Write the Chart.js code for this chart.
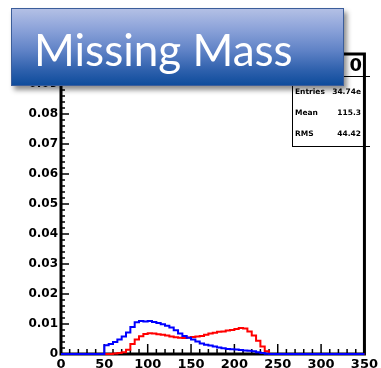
<!DOCTYPE html>
<html><head><meta charset="utf-8">
<script src="https://cdn.jsdelivr.net/npm/chart.js@4/dist/chart.umd.min.js"></script>
<style>
html,body{margin:0;padding:0;background:#fff;}
#wrap{position:relative;width:381px;height:368px;overflow:hidden;}
#c{position:absolute;left:0;top:0;}
#stats{position:absolute;left:292px;top:53px;width:77px;height:93px;border-left:1.5px solid #000;border-bottom:1px solid #000;font-family:"DejaVu Sans",sans-serif;font-weight:bold;color:#000;}
#stats .ttl{position:absolute;left:0;right:0;top:0;height:23px;border-bottom:1.5px solid #000;}
#stats .ttl span{position:absolute;right:8px;top:2px;font-size:18px;line-height:20px;}
#stats .row{position:absolute;left:2px;right:9px;font-size:7.5px;line-height:9px;}
#stats .row .v{position:absolute;right:0;top:0;}
#banner{position:absolute;left:11px;top:8px;width:331px;height:76px;border:1px solid #3b5d9a;
background:linear-gradient(to bottom,#b3c0e5 0%,#8ea4da 25%,#5f82c6 55%,#2f61ad 80%,#0e4c9c 100%);
box-shadow:3px 4px 5px rgba(0,0,0,0.45);color:#fff;font-family:Lato,"Open Sans",sans-serif;font-size:44px;line-height:44px;}
#banner span{position:absolute;left:22px;top:18px;white-space:nowrap;}
</style></head><body>
<div id="wrap">
<canvas id="c" width="381" height="368"></canvas>
<div id="stats"></div>
<div id="banner"><span id="btxt"></span></div>
</div>
<script>
const titleText = "Missing Mass";
const histTitle = "0";
const statLabels = ["Entries", "Mean", "RMS"];
const statValues = ["34.74e", "115.3", "44.42"];

const binLow = 0;
const binWidth = 5;
const blueValues = [
  0,0,0,0,0,0,0,0,0,0,
  0.0029,0.0033,0.0040,0.0048,0.0058,0.0072,0.0090,0.0106,0.0110,0.0108,
  0.0110,0.0107,0.0103,0.0099,0.0094,0.0088,0.0079,0.0068,0.0060,0.0054,
  0.0048,0.0042,0.0035,0.0031,0.0028,0.0025,0.0022,0.0019,0.0017,0.0016,
  0.0015,0.0013,0.0012,0.0011,0.0009,0.0006,0.0003,0.0001,0,0,
  0,0,0,0,0,0,0,0,0,0,
  0,0,0,0,0,0,0,0,0,0
];
const redValues = [
  0,0,0,0,0,0,0,0,0,0,
  0,0,0.0002,0.0003,0.0006,0.0014,0.0033,0.0048,0.0059,0.0067,
  0.0069,0.0068,0.0066,0.0064,0.0062,0.0058,0.0056,0.0054,0.0053,0.0055,
  0.0057,0.0058,0.0060,0.0064,0.0068,0.0071,0.0074,0.0075,0.0078,0.0080,
  0.0083,0.0087,0.0085,0.0075,0.0062,0.0044,0.0025,0.0009,0,0,
  0,0,0,0,0,0,0,0,0,0,
  0,0,0,0,0,0,0,0,0,0
];
const xTickValues = [0, 50, 100, 150, 200, 250, 300, 350];
const yTickValues = [0, 0.01, 0.02, 0.03, 0.04, 0.05, 0.06, 0.07, 0.08, 0.09, 0.1];
const yTickLabels = ["0", "0.01", "0.02", "0.03", "0.04", "0.05", "0.06", "0.07", "0.08", "0.09", "0.1"];

document.getElementById('btxt').textContent = titleText;
(function buildStats(){
  const st = document.getElementById('stats');
  let h = '<div class="ttl"><span>' + histTitle + '</span></div>';
  const tops = [34, 55, 76];
  statLabels.forEach((l, i) => {
    h += '<div class="row" style="top:' + tops[i] + 'px">' + l + '<span class="v">' + statValues[i] + '</span></div>';
  });
  st.innerHTML = h;
})();

function toSteps(vals){
  const pts = vals.map((v, i) => ({x: binLow + i * binWidth, y: v}));
  pts.push({x: binLow + vals.length * binWidth, y: vals[vals.length - 1]});
  return pts;
}

const frameTicks = {
  id: 'frameTicks',
  beforeDatasetsDraw(chart){
    const {ctx, chartArea: a, scales: {x, y}} = chart;
    ctx.save();
    ctx.strokeStyle = '#000';
    ctx.lineWidth = 1.5;
    for (let i = 0; i < xTickValues.length; i++) {
      const v0 = xTickValues[i];
      let px = x.getPixelForValue(v0);
      ctx.beginPath(); ctx.moveTo(px, a.bottom); ctx.lineTo(px, a.bottom - 10); ctx.stroke();
      if (i < xTickValues.length - 1) {
        const step = (xTickValues[i + 1] - v0) / 5;
        for (let k = 1; k < 5; k++) {
          px = x.getPixelForValue(v0 + k * step);
          ctx.beginPath(); ctx.moveTo(px, a.bottom); ctx.lineTo(px, a.bottom - 5); ctx.stroke();
        }
      }
    }
    for (let i = 0; i < yTickValues.length; i++) {
      const v0 = yTickValues[i];
      let py = y.getPixelForValue(v0);
      ctx.beginPath(); ctx.moveTo(a.left, py); ctx.lineTo(a.left + 8, py); ctx.stroke();
      if (i < yTickValues.length - 1) {
        const step = (yTickValues[i + 1] - v0) / 5;
        for (let k = 1; k < 5; k++) {
          py = y.getPixelForValue(v0 + k * step);
          ctx.beginPath(); ctx.moveTo(a.left, py); ctx.lineTo(a.left + 4, py); ctx.stroke();
        }
      }
    }
    ctx.lineWidth = 3;
    ctx.strokeRect(a.left, a.top, a.right - a.left, a.bottom - a.top);
    ctx.restore();
  }
};

const tickFont = {family: 'DejaVu Sans', weight: 'bold', size: 12};
new Chart(document.getElementById('c'), {
  type: 'line',
  data: {
    datasets: [
      {label: 'blue', data: toSteps(blueValues), borderColor: '#0000ff', borderWidth: 2, stepped: true, pointRadius: 0, fill: false, clip: 4},
      {label: 'red', data: toSteps(redValues), borderColor: '#ff0000', borderWidth: 2, stepped: true, pointRadius: 0, fill: false, clip: 4}
    ]
  },
  options: {
    responsive: false,
    animation: false,
    layout: {padding: {top: 54, right: 10, left: 0, bottom: 0}},
    plugins: {legend: {display: false}, tooltip: {enabled: false}},
    scales: {
      x: {
        type: 'linear', min: 0, max: 350,
        afterFit: s => { s.height = 14; },
        afterBuildTicks: s => { s.ticks = xTickValues.map(v => ({value: v})); },
        grid: {display: false, drawTicks: false},
        border: {display: false},
        ticks: {padding: 3, color: '#000', font: {family: 'DejaVu Sans', weight: 'bold', size: 13}, maxRotation: 0, autoSkip: false}
      },
      y: {
        type: 'linear', min: 0, max: 0.1,
        afterFit: s => { s.width = 61; },
        afterBuildTicks: s => { s.ticks = yTickValues.map(v => ({value: v})); },
        grid: {display: false, drawTicks: false},
        border: {display: false},
        ticks: {padding: 3, color: '#000', font: tickFont, autoSkip: false,
          callback: (v, i) => yTickLabels[i]}
      }
    }
  },
  plugins: [frameTicks]
});
</script>
</body></html>
